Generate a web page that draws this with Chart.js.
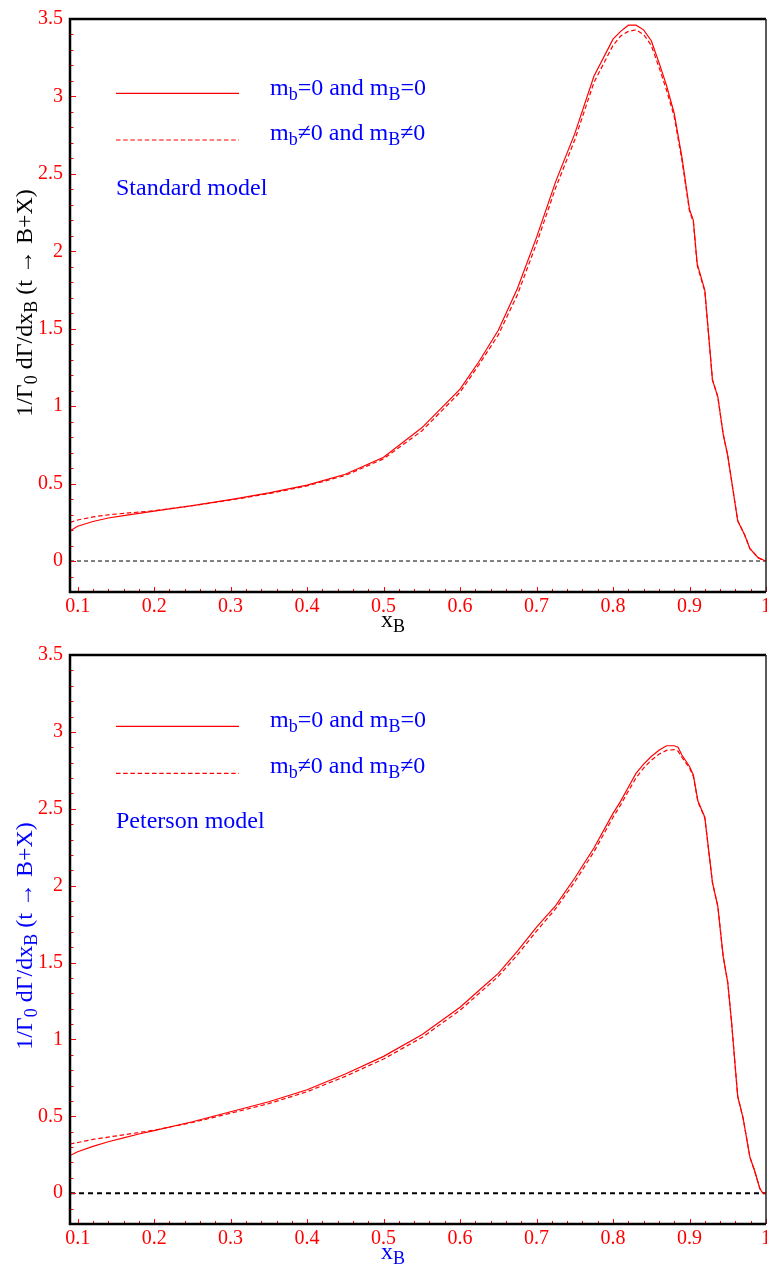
<!DOCTYPE html>
<html><head><meta charset="utf-8">
<script src="https://cdn.jsdelivr.net/npm/chart.js@4.4.0/dist/chart.umd.min.js"></script>
<style>
html,body{margin:0;padding:0;background:#fff;overflow:hidden;}
#wrap{position:relative;width:767px;height:1275px;overflow:hidden;background:#fff;}
canvas{position:absolute;left:0;}
.t{position:absolute;font-family:"Liberation Serif","Times New Roman",serif;white-space:nowrap;line-height:1;font-size:24px;}
.t sub{font-size:75%;vertical-align:baseline;position:relative;top:0.3em;}
.blue{color:#0000ff;}
.black{color:#000;}
.rot{transform:translate(-50%,-50%) rotate(-90deg);}
svg{position:absolute;left:0;top:0;}
</style></head><body>
<div id="wrap">
<canvas id="c1" width="780" height="636" style="top:0"></canvas>
<canvas id="c2" width="780" height="639" style="top:636px"></canvas>
<svg width="767" height="1275">
  <line x1="116" y1="93.3" x2="239" y2="93.3" stroke="#ff0000" stroke-width="1.2"/>
  <line x1="116" y1="140" x2="239" y2="140" stroke="#ff0000" stroke-width="1.2" stroke-dasharray="4.5 2.7"/>
  <line x1="116" y1="726.3" x2="239" y2="726.3" stroke="#ff0000" stroke-width="1.2"/>
  <line x1="116" y1="773.3" x2="239" y2="773.3" stroke="#ff0000" stroke-width="1.2" stroke-dasharray="4.5 2.7"/>
</svg>
<div class="t blue" style="left:270px;top:75px">m<sub>b</sub>=0 and m<sub>B</sub>=0</div>
<div class="t blue" style="left:270px;top:120px">m<sub>b</sub>≠0 and m<sub>B</sub>≠0</div>
<div class="t blue" style="left:116px;top:175px">Standard model</div>
<div class="t black rot" style="left:24px;top:303px">1/Γ<sub>0</sub> dΓ/dx<sub>B</sub> (t → B+X)</div>
<div class="t black" style="left:381px;top:607px">x<sub>B</sub></div>

<div class="t blue" style="left:270px;top:707px">m<sub>b</sub>=0 and m<sub>B</sub>=0</div>
<div class="t blue" style="left:270px;top:753px">m<sub>b</sub>≠0 and m<sub>B</sub>≠0</div>
<div class="t blue" style="left:116px;top:808px">Peterson model</div>
<div class="t blue rot" style="left:24px;top:936px">1/Γ<sub>0</sub> dΓ/dx<sub>B</sub> (t → B+X)</div>
<div class="t blue" style="left:381px;top:1239px">x<sub>B</sub></div>
</div>
<script>
// ---- data ----
const xTop = [0.09,0.10,0.12,0.14,0.16,0.18,0.20,0.25,0.30,0.35,0.40,0.45,0.50,0.55,0.60,0.625,0.65,0.675,0.70,0.725,0.75,0.775,0.80,0.81,0.82,0.83,0.84,0.85,0.86,0.87,0.88,0.89,0.90,0.905,0.91,0.92,0.93,0.937,0.944,0.95,0.963,0.972,0.979,0.99,1.0];
const topSolid = [0.195,0.225,0.255,0.278,0.293,0.308,0.322,0.358,0.397,0.44,0.49,0.56,0.67,0.86,1.11,1.29,1.49,1.76,2.09,2.45,2.76,3.13,3.37,3.42,3.46,3.46,3.43,3.36,3.22,3.07,2.89,2.61,2.27,2.20,1.92,1.75,1.17,1.06,0.82,0.68,0.26,0.17,0.08,0.02,0.0];
const topDashed = [0.25,0.265,0.285,0.298,0.308,0.316,0.325,0.357,0.394,0.435,0.485,0.553,0.66,0.84,1.09,1.27,1.46,1.72,2.05,2.41,2.72,3.09,3.33,3.39,3.42,3.43,3.40,3.33,3.19,3.04,2.87,2.59,2.26,2.19,1.91,1.74,1.17,1.06,0.82,0.68,0.26,0.17,0.08,0.02,0.0];

const xBot = [0.09,0.10,0.12,0.14,0.16,0.18,0.20,0.25,0.30,0.35,0.40,0.45,0.50,0.55,0.60,0.625,0.65,0.675,0.70,0.725,0.75,0.775,0.80,0.81,0.82,0.83,0.84,0.85,0.86,0.87,0.88,0.885,0.89,0.90,0.905,0.911,0.92,0.93,0.937,0.944,0.95,0.955,0.963,0.97,0.979,0.985,0.992,0.996,1.0];
const botSolid = [0.245,0.27,0.305,0.335,0.36,0.385,0.407,0.465,0.53,0.595,0.673,0.775,0.89,1.03,1.21,1.32,1.43,1.575,1.73,1.87,2.05,2.245,2.47,2.55,2.64,2.73,2.79,2.84,2.88,2.91,2.91,2.90,2.85,2.775,2.72,2.55,2.445,2.02,1.865,1.54,1.37,1.11,0.63,0.49,0.234,0.148,0.03,0.0,0.0];
const botDashed = [0.32,0.33,0.35,0.365,0.38,0.395,0.41,0.46,0.52,0.583,0.66,0.76,0.873,1.012,1.19,1.30,1.41,1.55,1.705,1.85,2.025,2.22,2.445,2.525,2.615,2.70,2.765,2.815,2.855,2.88,2.885,2.875,2.835,2.765,2.71,2.545,2.44,2.02,1.865,1.54,1.37,1.11,0.63,0.49,0.234,0.148,0.03,0.0,0.0];

const zeroX = [0.09, 1.0];
const zeroY = [0, 0];

const xTickVals = [0.1,0.2,0.3,0.4,0.5,0.6,0.7,0.8,0.9,1.0];
const xTickLabels = ['0.1','0.2','0.3','0.4','0.5','0.6','0.7','0.8','0.9','1'];
const yTickVals = [0,0.5,1,1.5,2,2.5,3,3.5];
const yTickLabels = ['0','0.5','1','1.5','2','2.5','3','3.5'];

const RED = '#ff0000';
const FONT = '"Liberation Serif","Times New Roman",serif';

function pts(xs, ys){ return xs.map((x,i)=>({x:x, y:ys[i]})); }

const framePlugin = {
  id: 'frame',
  afterDraw(chart) {
    const ctx = chart.ctx, a = chart.chartArea, x = chart.scales.x, y = chart.scales.y;
    ctx.save();
    ctx.strokeStyle = RED; ctx.lineWidth = 1;
    for (let k = -2; k <= 35; k++) {
      const py = Math.round(y.getPixelForValue(k/10)) + 0.5;
      const len = (k % 5 === 0) ? 6 : 3.5;
      ctx.beginPath(); ctx.moveTo(a.left, py); ctx.lineTo(a.left + len, py); ctx.stroke();
    }
    for (let k = 10; k <= 100; k += 2) {
      const px = Math.round(x.getPixelForValue(k/100)) + 0.5;
      const len = (k % 10 === 0) ? 5 : 3;
      ctx.beginPath(); ctx.moveTo(px, a.bottom); ctx.lineTo(px, a.bottom - len); ctx.stroke();
    }
    ctx.strokeStyle = '#000';
    ctx.lineWidth = 2.5;
    ctx.beginPath();
    ctx.moveTo(a.left, a.top); ctx.lineTo(a.right, a.top);
    ctx.moveTo(a.left, a.top - 1.25); ctx.lineTo(a.left, a.bottom + 1.25);
    ctx.moveTo(a.left, a.bottom); ctx.lineTo(a.right, a.bottom);
    ctx.stroke();
    ctx.lineWidth = 1.5; ctx.strokeStyle = '#222';
    ctx.beginPath(); ctx.moveTo(a.right, a.top); ctx.lineTo(a.right, a.bottom); ctx.stroke();
    ctx.restore();
  }
};

function makeChart(id, xs, solid, dashed, padTop, xAxisH, zeroW, zeroDash) {
  return new Chart(document.getElementById(id), {
    type: 'line',
    data: {
      datasets: [
        { data: pts(xs, solid), borderColor: RED, borderWidth: 1.2, pointRadius: 0, tension: 0, fill: false },
        { data: pts(xs, dashed), borderColor: RED, borderWidth: 1.2, borderDash: [4.5, 2.7], pointRadius: 0, tension: 0, fill: false },
        { data: pts(zeroX, zeroY), borderColor: '#000', borderWidth: zeroW, borderDash: zeroDash, pointRadius: 0, fill: false }
      ]
    },
    options: {
      responsive: false, animation: false, devicePixelRatio: 1,
      layout: { padding: { top: padTop, right: 14, left: 0, bottom: 0 } },
      plugins: { legend: { display: false }, tooltip: { enabled: false } },
      scales: {
        x: {
          type: 'linear', min: 0.09, max: 1.0,
          grid: { display: false, drawTicks: false }, border: { display: false },
          afterBuildTicks: s => { s.ticks = xTickVals.map(v => ({ value: v })); },
          afterFit: s => { s.height = xAxisH; },
          ticks: { color: RED, font: { family: FONT, size: 20 }, padding: 3, maxRotation: 0, autoSkip: false,
                   callback: (v, i) => xTickLabels[i] }
        },
        y: {
          type: 'linear', min: -0.2, max: 3.5,
          grid: { display: false, drawTicks: false }, border: { display: false },
          afterBuildTicks: s => { s.ticks = yTickVals.map(v => ({ value: v })); },
          afterFit: s => { s.width = 70; },
          ticks: { color: RED, font: { family: FONT, size: 20 }, padding: 7, autoSkip: false,
                   callback: (v, i) => yTickLabels[i] }
        }
      }
    },
    plugins: [framePlugin]
  });
}

makeChart('c1', xTop, topSolid, topDashed, 16, 44, 1, [4, 3]);
makeChart('c2', xBot, botSolid, botDashed, 13, 51, 2, [5, 4]);
</script>
</body></html>
